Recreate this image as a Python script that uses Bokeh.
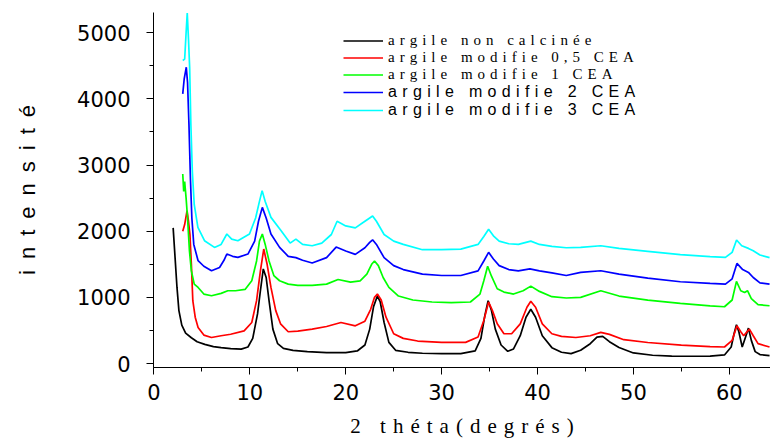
from bokeh.plotting import figure
from bokeh.models import Legend, LegendItem, SingleIntervalTicker, Range1d
from bokeh.embed import file_html
from bokeh.resources import INLINE

# ---- data ----
x_black = [2.0, 2.2, 2.4, 2.6, 2.9, 3.3, 3.9, 4.5, 5.3, 6.2, 7.0, 8.0, 9.1, 9.8, 10.3, 10.8, 11.1, 11.4, 11.7, 12.0,
           12.4, 12.9, 13.5, 14.5, 16, 18, 20, 21.2, 22.0, 22.5, 22.9, 23.3, 23.6, 24.0, 24.5, 25.2, 26.5, 28, 30, 32,
           33.5, 34.1, 34.5, 34.85, 35.2, 35.6, 36.2, 36.9, 37.5, 38.2, 38.8, 39.3, 39.8, 40.5, 41.5, 42.5, 43.5, 44.5, 45.5, 46.2,
           46.8, 47.5, 48.5, 50, 52, 54, 56, 58, 59.5, 60.2, 60.5, 60.75, 61.0, 61.35, 61.7, 62.0, 62.3, 62.7, 63.2, 64.2]
y_black = [2050, 1600, 1150, 800, 580, 460, 390, 330, 290, 255, 240, 225, 218, 250, 380, 750, 1100, 1430, 1300, 950,
           520, 300, 230, 200, 180, 165, 165, 190, 280, 520, 860, 1020, 930, 620, 320, 200, 170, 155, 150, 150,
           190, 380, 720, 950, 800, 520, 280, 185, 220, 420, 700, 820, 700, 420, 240, 170, 150, 200, 300, 400,
           410, 330, 242, 160, 125, 112, 110, 112, 130, 250, 450, 585, 480, 250, 400, 535, 350, 180, 135, 120]

x_red = [3.0, 3.2, 3.45, 3.6, 3.75, 3.9, 4.05, 4.3, 4.6, 5.2, 6.0, 7.0, 8.0, 9.4, 10.2, 10.7, 11.1, 11.45, 11.8, 12.2,
         12.7, 13.2, 14, 15, 16.5, 18, 19.5, 21, 22, 22.6, 23.0, 23.3, 23.7, 24.2, 25, 26, 27.5, 30, 32.5, 33.8,
         34.4, 34.9, 35.3, 35.8, 36.5, 37.3, 38.2, 38.9, 39.3, 39.8, 40.5, 41.5, 42.5, 44, 45.5, 46.6, 47.5, 49, 51.5, 55,
         58, 59.5, 60.3, 60.8, 61.2, 61.5, 61.8, 62.1, 62.5, 63.0, 64.2]
y_red = [2000, 2100, 2310, 2150, 1950, 1500, 950, 700, 545, 430, 393, 420, 443, 494, 620, 950, 1400, 1730, 1500, 1150,
         800, 600, 480, 490, 520, 560, 620, 570, 640, 820, 1000, 1050, 960, 700, 450, 380, 340, 320, 320, 400,
         650, 930, 800, 600, 450, 450, 600, 850, 940, 850, 600, 450, 410, 393, 420, 470, 440, 360, 318, 278,
         255, 250, 350, 570, 480, 420, 470, 520, 420, 300, 250]

x_green = [3.0, 3.1, 3.2, 3.35, 3.5, 3.7, 3.9, 4.2, 4.6, 5.2, 6.0, 7.0, 7.7, 8.5, 9.5, 10.2, 10.7, 11.0, 11.3, 11.6,
           12.0, 12.5, 13.1, 14, 15, 16.5, 18, 19.2, 20.5, 21.5, 22.2, 22.7, 23.0, 23.4, 23.9, 24.5, 25.5, 27, 29, 31,
           33, 34, 34.4, 34.8, 35.2, 35.8, 36.5, 37.5, 38.5, 39.3, 40.2, 41.5, 43, 44.5, 46.6, 48.5, 51.5, 54.9, 58, 59.5,
           60.3, 60.75, 61.2, 61.6, 61.9, 62.3, 63, 64.2]
y_green = [2865, 2600, 2750, 2500, 2200, 1700, 1400, 1200, 1150, 1050, 1024, 1060, 1100, 1100, 1120, 1251, 1550, 1850, 1957, 1800,
           1550, 1330, 1251, 1200, 1180, 1180, 1200, 1270, 1230, 1250, 1350, 1500, 1550, 1480, 1300, 1150, 1020, 960, 930, 920,
           930, 1050, 1250, 1470, 1320, 1130, 1080, 1050, 1100, 1170, 1090, 1010, 990, 999, 1100, 1020, 959, 908, 870, 858,
           960, 1241, 1100, 1074, 1100, 980, 890, 873]

x_blue = [3.0, 3.15, 3.37, 3.5, 3.65, 3.8, 3.95, 4.15, 4.6, 5.2, 6.0, 6.84, 7.3, 7.6, 8.2, 8.75, 9.8, 10.5, 10.9, 11.3,
          11.7, 12.2, 13.1, 14, 14.8, 15.5, 16.5, 18, 19, 20, 21, 22, 22.5, 22.8, 23.2, 24, 25, 26, 28, 30,
          32, 33.8, 34.4, 34.9, 35.4, 36, 37, 38, 39.2, 40.2, 41.5, 43, 44.5, 46.6, 48.5, 51.5, 54.9, 58, 59.6, 60.3,
          60.8, 61.4, 62.0, 62.5, 63.2, 64.2]
y_blue = [4075, 4300, 4478, 4250, 3600, 2800, 2200, 1800, 1554, 1470, 1402, 1452, 1560, 1655, 1620, 1604, 1655, 1850, 2150, 2360,
          2200, 1957, 1755, 1620, 1600, 1560, 1520, 1600, 1760, 1700, 1650, 1750, 1830, 1870, 1800, 1600, 1480, 1420, 1350, 1330,
          1330, 1400, 1550, 1680, 1580, 1480, 1420, 1400, 1430, 1400, 1370, 1330, 1377, 1402, 1350, 1292, 1236, 1210, 1201, 1280,
          1513, 1420, 1377, 1300, 1220, 1201]

x_cyan = [3.0, 3.2, 3.35, 3.47, 3.6, 3.72, 3.85, 4.0, 4.2, 4.58, 5.27, 6.31, 7.0, 7.6, 8.1, 8.75, 9.96, 10.6, 11.0, 11.28,
          11.6, 12.2, 13.26, 14.2, 14.8, 15.5, 16.5, 17.5, 18.5, 19.1, 20, 21, 22, 22.5, 22.8, 23.2, 24, 25, 26, 28,
          30, 32, 33.8, 34.4, 34.9, 35.4, 36, 37, 38, 39.3, 40.2, 41.5, 43, 44.5, 46.6, 48.5, 51.5, 54.9, 58, 59.6,
          60.3, 60.76, 61.3, 62.0, 62.5, 63.2, 64.2]
y_cyan = [4580, 4600, 5000, 5295, 4900, 4478, 3600, 2900, 2400, 2058, 1856, 1755, 1800, 1957, 1880, 1856, 1957, 2200, 2450, 2613,
          2450, 2209, 2008, 1820, 1880, 1800, 1780, 1820, 1950, 2150, 2080, 2050, 2150, 2200, 2230, 2150, 1950, 1850, 1800, 1720,
          1720, 1730, 1800, 1920, 2030, 1930, 1850, 1810, 1800, 1850, 1800, 1770, 1750, 1755, 1780, 1740, 1695, 1645, 1615, 1605,
          1680, 1867, 1780, 1740, 1705, 1640, 1600]

labels = ["argile non calcinée", "argile modifie 0,5 CEA", "argile modifie 1 CEA",
          "argile modifie 2 CEA", "argile modifie 3 CEA"]
colors = ["#000000", "#ff0000", "#00ff00", "#0000ff", "#00ffff"]
x_title = "2 théta(degrés)"
y_title = "intensité"

series = [(x_black, y_black), (x_red, y_red), (x_green, y_green), (x_blue, y_blue), (x_cyan, y_cyan)]


def spaced(s, sep="\u2004"):
    return sep.join(s)


p = figure(width=770, height=446, output_backend="svg", toolbar_location=None,
           x_range=Range1d(-0.05, 64.3), y_range=Range1d(-60, 5305),
           min_border_left=153, min_border_right=0, min_border_top=12, min_border_bottom=79)
p.xgrid.visible = False
p.ygrid.visible = False
p.outline_line_color = None
p.background_fill_color = "white"
p.border_fill_color = "white"

renderers = []
for (xs, ys), c in zip(series, colors):
    renderers.append(p.line(xs, ys, line_color=c, line_width=1.7))

# axes
p.xaxis.ticker = SingleIntervalTicker(interval=10, num_minor_ticks=2)
p.yaxis.ticker = SingleIntervalTicker(interval=1000, num_minor_ticks=2)
for ax in (p.xaxis[0], p.yaxis[0]):
    ax.axis_line_color = "black"
    ax.axis_line_width = 1
    ax.major_tick_line_color = "black"
    ax.minor_tick_line_color = "black"
    ax.major_tick_out = 7
    ax.major_tick_in = 0
    ax.minor_tick_out = 4
    ax.minor_tick_in = 0
    ax.major_label_text_font = "DejaVu Sans"
    ax.major_label_text_font_size = "21px"
    ax.major_label_text_color = "black"
    ax.axis_label_text_color = "black"
    ax.axis_label_text_font_style = "normal"

p.xaxis.major_label_standoff = 9
p.yaxis.major_label_standoff = 16
p.xaxis.axis_label = spaced(x_title)
p.xaxis.axis_label_text_font = "Liberation Serif"
p.xaxis.axis_label_text_font_size = "21px"
p.xaxis.axis_label_standoff = 11
p.yaxis.axis_label = spaced(y_title, "\u2002")
p.yaxis.axis_label_text_font = "Liberation Sans"
p.yaxis.axis_label_text_font_size = "22px"
p.yaxis.axis_label_standoff = 34

# legends: first three labels in serif, last two in sans
common = dict(background_fill_alpha=0, border_line_alpha=0, padding=0, margin=0,
              glyph_width=40, label_standoff=5, spacing=0, label_text_color="black")
leg_a = Legend(items=[LegendItem(label=spaced(labels[i]), renderers=[renderers[i]]) for i in range(3)],
               location=(190, 284), label_text_font="Liberation Serif", label_text_font_size="15px",
               label_height=17, glyph_height=17, **common)
leg_b = Legend(items=[LegendItem(label=spaced(labels[i]), renderers=[renderers[i]]) for i in range(3, 5)],
               location=(190, 248), label_text_font="Liberation Sans", label_text_font_size="16px",
               label_height=16, glyph_height=16, **common)
p.add_layout(leg_a, "center")
p.add_layout(leg_b, "center")

open("out.html", "w").write(file_html(p, INLINE))
